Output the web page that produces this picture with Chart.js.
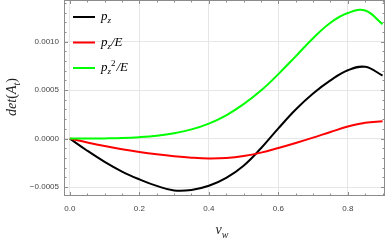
<!DOCTYPE html>
<html>
<head>
<meta charset="utf-8">
<script src="https://cdn.jsdelivr.net/npm/chart.js@4.4.0/dist/chart.umd.min.js"></script>
<style>
    html, body { margin: 0; padding: 0; background: #fff; }
    #wrap { width: 390px; height: 243px; position: relative; }
</style>
</head>
<body>
<div id="wrap"><canvas id="chart"></canvas></div>
<script>
// --- Datos ---
const vw   = [0, 0.05, 0.1, 0.15, 0.2, 0.25, 0.3, 0.35, 0.4, 0.45, 0.5, 0.55, 0.6, 0.65, 0.7, 0.75, 0.8, 0.85, 0.9];
const pz   = [0, -0.000125, -0.00024, -0.00034, -0.00042, -0.000488, -0.000535, -0.00053, -0.000487, -0.000405, -0.00028, -0.0001, 0.000105, 0.0003, 0.000465, 0.0006, 0.000705, 0.00074, 0.00065];
const pzE  = [0, -0.00004, -0.000077, -0.00011, -0.000138, -0.000162, -0.000182, -0.000197, -0.000205, -0.0002, -0.00018, -0.000145, -0.000097, -0.000045, 0.00001, 0.000068, 0.000124, 0.000163, 0.000178];
const pz2E = [0, 0, 0.000002, 0.000006, 0.000015, 0.00003, 0.000055, 0.000095, 0.000155, 0.00024, 0.000355, 0.000495, 0.000665, 0.000848, 0.001035, 0.001195, 0.001295, 0.00132, 0.00118];

const xTicks = [0, 0.2, 0.4, 0.6, 0.8];
const yTicks = [-0.0005, 0, 0.0005, 0.001];
const xMinor = [0.05, 0.1, 0.15, 0.25, 0.3, 0.35, 0.45, 0.5, 0.55, 0.65, 0.7, 0.75, 0.85, 0.9];
const yMinor = [-0.0004, -0.0003, -0.0002, -0.0001, 0.0001, 0.0002, 0.0003, 0.0004, 0.0006, 0.0007, 0.0008, 0.0009, 0.0011, 0.0012, 0.0013, 0.0014];

const seriesNames = ['pz', 'pzE', 'pz2E'];
const seriesColors = ['#000000', '#ff0000', '#00ff00'];

const toPoints = (ys) => vw.map((x, i) => ({ x: x, y: ys[i] }));

// Texto con subíndices / superíndices
const SERIF = "'Liberation Serif', 'DejaVu Serif', serif";
const richParts = {
    pz:   [{ t: 'p' }, { t: 'z', sub: true }],
    pzE:  [{ t: 'p' }, { t: 'z', sub: true }, { t: '/E' }],
    pz2E: [{ t: 'p' }, { t: 'z', sub: true }, { t: '2', sup: true, roman: true }, { t: '/E' }],
    det:  [{ t: 'det' }, { t: '(', roman: true }, { t: 'A' }, { t: 't', sub: true }, { t: ')', roman: true }],
    vw:   [{ t: 'v' }, { t: 'w', sub: true }]
};

const fontFor = (p, size) => {
    const s = (p.sub || p.sup) ? Math.round(size * 0.7) : size;
    return (p.roman ? '' : 'italic ') + s + 'px ' + SERIF;
};

const measureRich = (ctx, parts, size) => {
    let w = 0;
    parts.forEach(p => { ctx.font = fontFor(p, size); w += ctx.measureText(p.t).width; });
    return w;
};

const drawRich = (ctx, x, y, parts, size) => {
    let cx = x;
    parts.forEach(p => {
        ctx.font = fontFor(p, size);
        let dy = 0;
        if (p.sub) dy = size * 0.25;
        if (p.sup) dy = -size * 0.42;
        ctx.fillText(p.t, cx, y + dy);
        cx += ctx.measureText(p.t).width + (p.sup ? 1 : 0);
    });
};

const frameAndLegend = {
    id: 'frameAndLegend',
    afterDraw(chart) {
        const { ctx, chartArea: a, scales: { x, y } } = chart;
        ctx.save();

        // marco
        ctx.strokeStyle = '#8c8c8c';
        ctx.lineWidth = 1;
        ctx.strokeRect(a.left + 0.5, a.top + 0.5, a.right - a.left - 1, a.bottom - a.top - 1);

        // marcas hacia dentro en los cuatro lados
        ctx.beginPath();
        const tickX = (v, len) => {
            const px = Math.round(x.getPixelForValue(v)) + 0.5;
            ctx.moveTo(px, a.bottom); ctx.lineTo(px, a.bottom - len);
            ctx.moveTo(px, a.top); ctx.lineTo(px, a.top + len);
        };
        const tickY = (v, len) => {
            const py = Math.round(y.getPixelForValue(v)) + 0.5;
            ctx.moveTo(a.left, py); ctx.lineTo(a.left + len, py);
            ctx.moveTo(a.right, py); ctx.lineTo(a.right - len, py);
        };
        xTicks.forEach(v => tickX(v, 4));
        xMinor.forEach(v => tickX(v, 2.5));
        yTicks.forEach(v => tickY(v, 4));
        yMinor.forEach(v => tickY(v, 2.5));
        ctx.stroke();

        // leyenda dentro del área
        ctx.textBaseline = 'alphabetic';
        const legY = [17, 42.5, 68];
        seriesNames.forEach((name, i) => {
            ctx.strokeStyle = seriesColors[i];
            ctx.lineWidth = 2;
            ctx.beginPath();
            ctx.moveTo(73, legY[i]);
            ctx.lineTo(95, legY[i]);
            ctx.stroke();
            ctx.fillStyle = '#000';
            drawRich(ctx, 101, legY[i] + 3, richParts[name], 13);
        });

        // títulos de ejes
        ctx.fillStyle = '#222';
        const wv = measureRich(ctx, richParts.vw, 14);
        drawRich(ctx, 222 - wv / 2, 234, richParts.vw, 14);

        ctx.translate(16, 97);
        ctx.rotate(-Math.PI / 2);
        const wd = measureRich(ctx, richParts.det, 14);
        drawRich(ctx, -wd / 2, 0, richParts.det, 14);

        ctx.restore();
    }
};

const fmtY = (v) => {
    const s = Math.abs(v).toFixed(4);
    return v < -1e-12 ? '\u2212' + s : s;
};

new Chart(document.getElementById('chart').getContext('2d'), {
    type: 'line',
    data: {
        datasets: [pz, pzE, pz2E].map((ys, i) => ({
            label: seriesNames[i],
            data: toPoints(ys),
            borderColor: seriesColors[i],
            borderWidth: 2,
            pointRadius: 0,
            fill: false,
            tension: 0.4
        })).reverse()
    },
    options: {
        responsive: true,
        maintainAspectRatio: false,
        animation: false,
        events: [],
        layout: { padding: { top: 0, right: 5, left: 0, bottom: 0 } },
        plugins: {
            legend: { display: false },
            tooltip: { enabled: false }
        },
        scales: {
            x: {
                type: 'linear',
                min: -0.017,
                max: 0.907,
                afterBuildTicks: (s) => { s.ticks = xTicks.map(v => ({ value: v })); },
                afterFit: (s) => { s.height = 47; s.paddingLeft = 0; s.paddingRight = 0; },
                grid: { color: '#e6e6e6', drawTicks: false },
                border: { display: false },
                ticks: {
                    padding: 8,
                    color: '#444',
                    font: { family: "'Liberation Sans', Arial, sans-serif", size: 8 },
                    callback: (v) => v.toFixed(1),
                    maxRotation: 0
                }
            },
            y: {
                type: 'linear',
                min: -0.000592,
                max: 0.001429,
                afterBuildTicks: (s) => { s.ticks = yTicks.map(v => ({ value: v })); },
                afterFit: (s) => { s.width = 64; s.paddingTop = 0; s.paddingBottom = 0; },
                grid: { color: '#e6e6e6', drawTicks: false },
                border: { display: false },
                ticks: {
                    padding: 5,
                    color: '#444',
                    font: { family: "'Liberation Sans', Arial, sans-serif", size: 8 },
                    callback: fmtY
                }
            }
        }
    },
    plugins: [frameAndLegend]
});
</script>
</body>
</html>
